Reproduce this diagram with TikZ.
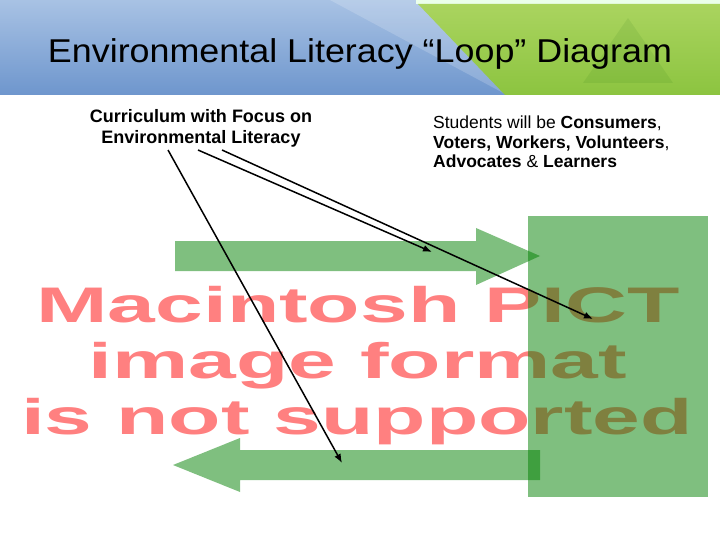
\documentclass[tikz,border=0pt]{standalone}
\usepackage{fontspec}
\setmainfont{Liberation Sans}
\usetikzlibrary{arrows.meta}
\definecolor{pictpink}{RGB}{255,128,128}
\definecolor{shapegreen}{RGB}{0,128,0}
\definecolor{bluetop}{RGB}{168,194,228}
\definecolor{bluebot}{RGB}{110,150,205}
\definecolor{greentop}{RGB}{170,212,95}
\definecolor{greenbot}{RGB}{140,196,64}
\tikzset{
  gshape/.style={fill=shapegreen, fill opacity=0.5, draw=none},
  pict/.style={text=pictpink, inner sep=0pt, anchor=base,
     font=\fontsize{50}{56}\selectfont\bfseries},
  lbl/.style={inner sep=0pt, anchor=base, font=\fontsize{18}{21}\selectfont},
  rlbl/.style={inner sep=0pt, anchor=base west, font=\fontsize{17.5}{20}\selectfont},
  conn/.style={draw=black, line width=1.5pt, -{Latex[length=9pt,width=7pt]}}
}
\begin{document}
\begin{tikzpicture}[x=1pt,y=-1pt]
\useasboundingbox (0,0) rectangle (720,540);
\fill[white] (0,0) rectangle (720,540);
% header
\shade[top color=bluetop, bottom color=bluebot] (0,0) -- (422,0) -- (507,95) -- (0,95) -- cycle;
\fill[white, opacity=0.18] (330,0) -- (422,0) -- (507,95) -- cycle;
\fill[white!92!green] (416,0) rectangle (720,4);
\shade[top color=greentop, bottom color=greenbot] (418,4) -- (720,4) -- (720,95) -- (505,95) -- cycle;
\fill[green!35!black, opacity=0.08] (628,18) -- (673,83) -- (583,83) -- cycle;
\node[inner sep=0pt, anchor=base] (title) at (360,63)
  {\scalebox{1.087}[1]{\fontsize{33}{38}\selectfont Environmental Literacy “Loop” Diagram}};
% placeholder text
\node[pict] (p1) at (358,322) {\scalebox{1.715}[1]{Macintosh PICT}};
\node[pict] (p2) at (358,378) {\scalebox{1.715}[1]{image format}};
\node[pict] (p3) at (357,434) {\scalebox{1.715}[1]{is not supported}};
% green shapes
\path[gshape] (528,216) rectangle (708,497);
\path[gshape] (175,241) -- (476,241) -- (476,228) -- (540,256) -- (476,285) -- (476,271) -- (175,271) -- cycle;
\path[gshape] (540,450) -- (240,450) -- (240,438) -- (173,465) -- (240,492) -- (240,480) -- (540,480) -- cycle;
% labels
\node[lbl] (cur1) at (201,123) {\bfseries Curriculum with Focus on};
\node[lbl] (cur2) at (201,144) {\bfseries Environmental Literacy};
\node[rlbl] (st1) at (433,129) {Students will be \textbf{Consumers},};
\node[rlbl] (st2) at (433,148.5) {\textbf{Voters, Workers, Volunteers},};
\node[rlbl] (st3) at (433,168) {\textbf{Advocates} \& \textbf{Learners}};
% connectors
\coordinate (s1) at (168,150);
\coordinate (s2) at (198,150);
\coordinate (s3) at (222,150);
\coordinate (e1) at (342,463);
\coordinate (e2) at (432,252);
\coordinate (e3) at (593,319);
\draw[conn] (s1) -- (e1);
\draw[conn] (s2) -- (e2);
\draw[conn] (s3) -- (e3);
\end{tikzpicture}
\end{document}
